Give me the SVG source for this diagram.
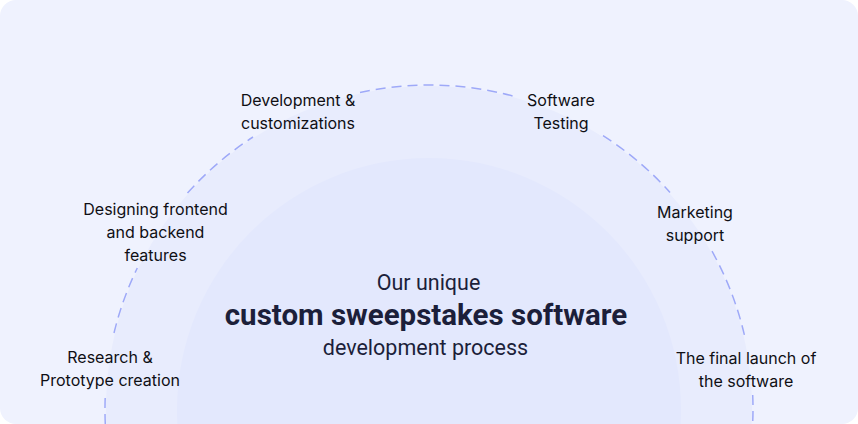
<svg xmlns="http://www.w3.org/2000/svg" width="858" height="424" viewBox="0 0 858 424">
  <defs>
    <style>
      .lbl { font-family: Inter, "Noto Sans", "Liberation Sans", sans-serif; font-size: 16px; fill: #0f0f14; text-anchor: middle; }
      .ctr { font-family: Roboto, "Liberation Sans", sans-serif; fill: #1c1f3a; text-anchor: middle; }
      .arc { fill: none; stroke: #9ea9f8; stroke-width: 1.5; stroke-dasharray: 10 6; }
    </style>
    <clipPath id="cardClip">
      <rect x="0" y="0" width="858" height="424" rx="16" ry="16"/>
    </clipPath>
  </defs>
  <rect x="0" y="0" width="858" height="424" fill="#ffffff"/>
  <g clip-path="url(#cardClip)">
    <rect id="card" x="0" y="0" width="858" height="424" fill="#eff2fe"/>
    <circle id="outer-circle" cx="429" cy="409" r="323" fill="#e8ecfd"/>
    <circle id="inner-circle" cx="429" cy="410" r="252" fill="#e3e8fd"/>

    <g id="connectors">
      <path class="arc" d="M 105.3 424 A 324 324 0 0 1 105.3 395"/>
      <path class="arc" d="M 114 333 A 324 324 0 0 1 137.3 268"/>
      <path class="arc" d="M 187.5 193 A 324 324 0 0 1 253 137"/>
      <path class="arc" d="M 360 92.4 A 324 324 0 0 1 517 97.2"/>
      <path class="arc" d="M 603 135.7 A 324 324 0 0 1 670 192.4"/>
      <path class="arc" d="M 712 251.2 A 324 324 0 0 1 744.4 335"/>
      <path class="arc" d="M 752.7 395 A 324 324 0 0 1 752.3 430"/>
    </g>
  </g>

  <g id="node-research">
    <text class="lbl" x="110" y="363">Research &amp;</text>
    <text class="lbl" x="110" y="386">Prototype creation</text>
  </g>
  <g id="node-designing">
    <text class="lbl" x="155.5" y="215">Designing frontend</text>
    <text class="lbl" x="155.5" y="238">and backend</text>
    <text class="lbl" x="155.5" y="261">features</text>
  </g>
  <g id="node-development">
    <text class="lbl" x="298" y="106">Development &amp;</text>
    <text class="lbl" x="298" y="129">customizations</text>
  </g>
  <g id="node-testing">
    <text class="lbl" x="561" y="106">Software</text>
    <text class="lbl" x="561" y="129">Testing</text>
  </g>
  <g id="node-marketing">
    <text class="lbl" x="695" y="218">Marketing</text>
    <text class="lbl" x="695" y="241">support</text>
  </g>
  <g id="node-launch">
    <text class="lbl" x="746" y="364">The final launch of</text>
    <text class="lbl" x="746" y="387">the software</text>
  </g>
  <g id="node-center">
    <text class="ctr" x="428.5" y="290" font-size="21.5">Our unique</text>
    <text class="ctr" x="426" y="325" font-size="29.5" font-weight="700">custom sweepstakes software</text>
    <text class="ctr" x="425.5" y="355" font-size="21.5">development process</text>
  </g>
</svg>
